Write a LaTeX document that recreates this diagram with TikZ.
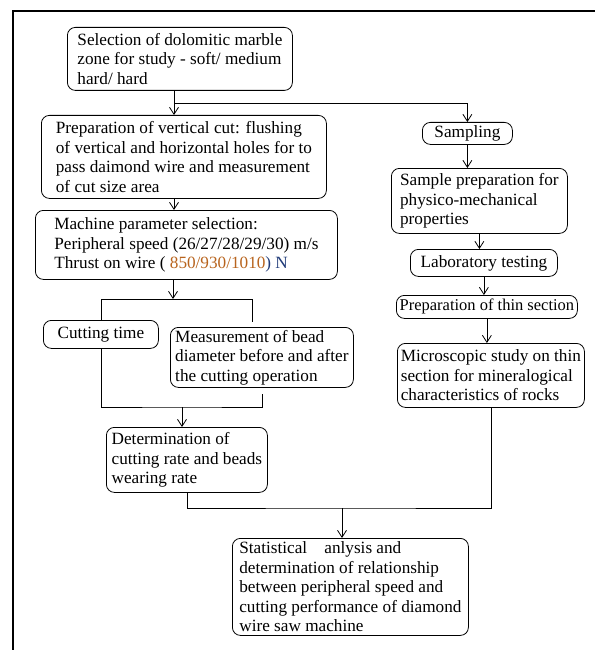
\documentclass[tikz,border=0pt]{standalone}
\usepackage{fontspec}
\setmainfont{Liberation Serif}
\usetikzlibrary{arrows.meta}
\definecolor{cNum}{HTML}{B8641E}
\definecolor{cNavy}{HTML}{1F3A78}

\begin{document}
\begin{tikzpicture}[x=1pt, y=-1pt, line width=0.8pt, >={Straight Barb[length=7pt,width=9pt]},
    font=\fontsize{17.2}{19.5}\selectfont,
    box/.style={draw, rounded corners=8pt, align=left, anchor=north west, inner xsep=2pt, inner ysep=1pt}]
    \useasboundingbox (0,0) rectangle (595,650);
    \draw[line width=2.4pt] (13,650) -- (13,11) -- (595,11);

    \node[box, minimum width=225, minimum height=63] (sel)   at (67,27)   {Selection of dolomitic marble\\zone for study - soft/ medium\\hard/ hard};
    \node[box, minimum width=285, minimum height=83] (prep)  at (41,115)  {Preparation of vertical cut: flushing\\of vertical and horizontal holes for to\\pass daimond wire and measurement\\of cut size area};
    \node[box, minimum width=302, minimum height=69] (mach)  at (35,210)  {Machine parameter selection:\\Peripheral speed (26/27/28/29/30) m/s\\Thrust on wire ( \textcolor{cNum}{850/930/1010}\textcolor{cNavy}{ ) N}};
    \node[box, minimum width=115, minimum height=28] (ct)    at (43,320)  {Cutting time};
    \node[box, minimum width=183, minimum height=60] (meas)  at (170,327) {Measurement of bead\\diameter before and after\\the cutting operation};
    \node[box, minimum width=161, minimum height=65] (det)   at (106,427) {Determination of\\cutting rate and beads\\wearing rate};
    \node[box, minimum width=236, minimum height=97] (stat)  at (232,538) {Statistical\quad anlysis and\\determination of relationship\\between peripheral speed and\\cutting performance of diamond\\wire saw machine};
    \node[box, minimum width=90,  minimum height=22] (samp)  at (422,122) {Sampling};
    \node[box, minimum width=176, minimum height=65] (sprep) at (391,168) {Sample preparation for\\physico-mechanical\\properties};
    \node[box, minimum width=147, minimum height=27] (lab)   at (410,249) {Laboratory testing};
    \node[box, minimum width=181, minimum height=23, font=\fontsize{16.5}{19.5}\selectfont] (thin) at (396,295) {Preparation of thin section};
    \node[box, minimum width=187, minimum height=64] (micro) at (397,343) {Microscopic study on thin\\section for mineralogical\\characteristics of rocks};

    \coordinate (split) at (174,103);
    \coordinate (fork)  at (173,299);
    \coordinate (forkR) at (252,322);
    \coordinate (join)  at (182,407);
    \coordinate (merge) at (342,508);

    \draw (sel.south -| split) -- (split);
    \draw[->] (split) -- (prep.north -| split);
    \draw[->] (split) -| (samp.north);
    \draw[->] (prep.south -| split) -- (mach.north -| split);
    \draw[->] (mach.south -| fork) -- (fork);
    \draw (ct.north) |- (forkR |- fork) -- (forkR);
    \draw (ct.south) |- (join) -| ([yshift=-6pt]meas.south);
    \draw[->] (join) -- (det.north -| join);
    \draw (det.south) |- (merge) -| (micro.south);
    \draw[->] (merge) -- (stat.north -| merge);
    \foreach \a/\b in {samp/sprep, sprep/lab, lab/thin, thin/micro}
      \draw[->] (\a.south) -- (\a.south |- \b.north);
\end{tikzpicture}
\end{document}
